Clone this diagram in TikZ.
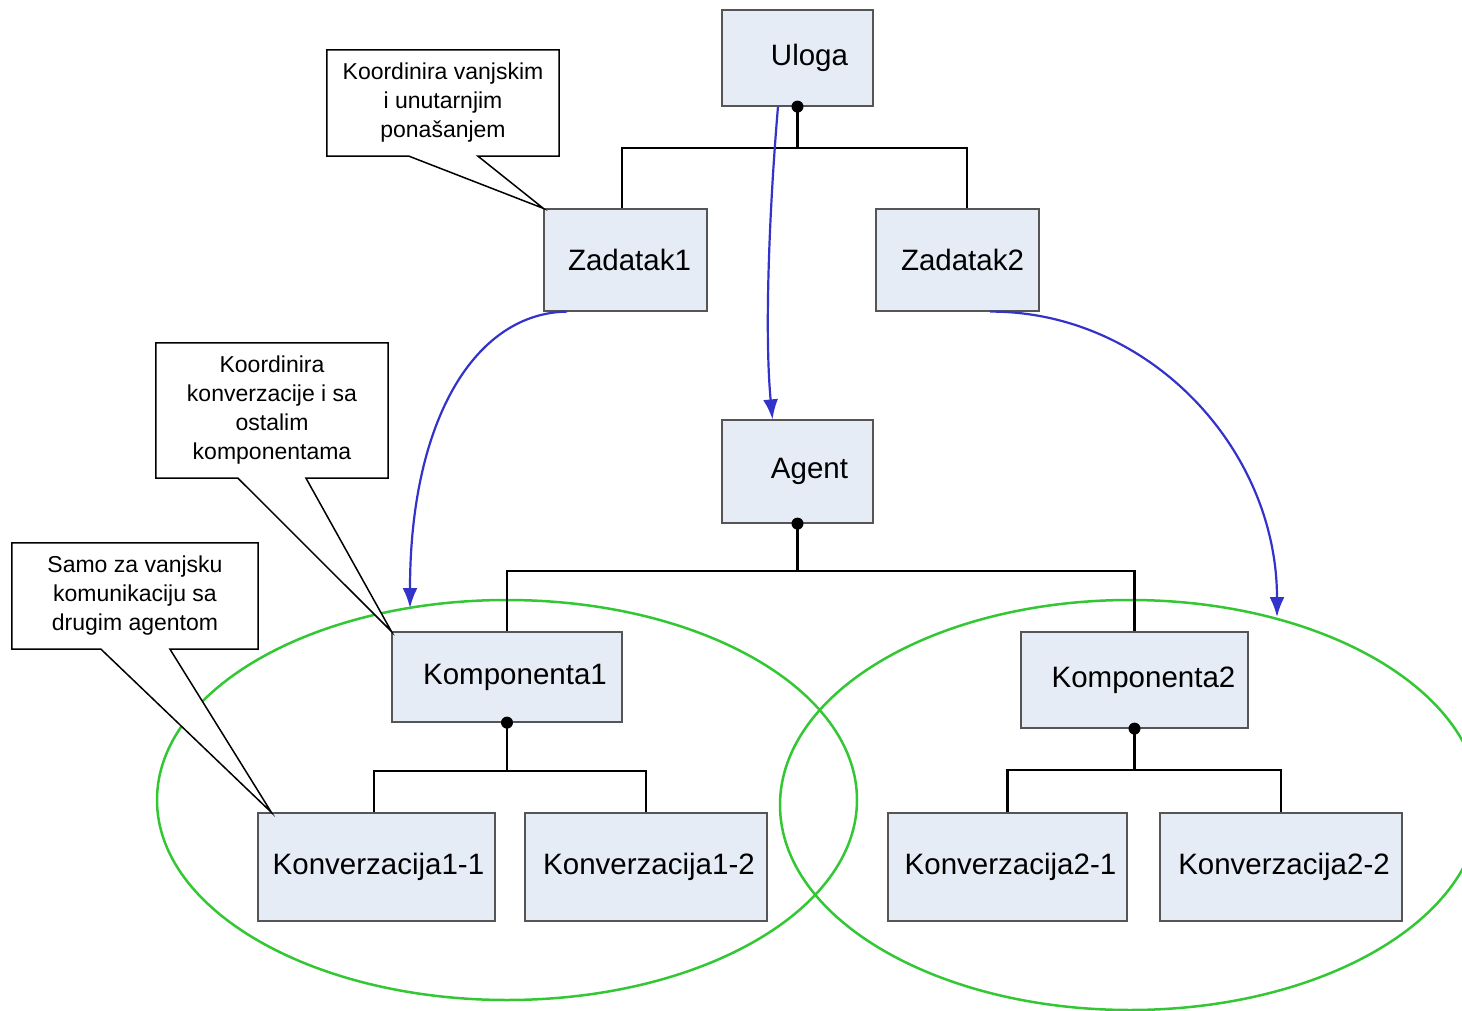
\documentclass[tikz,border=0pt]{standalone}
\usepackage{fontspec}
\setmainfont{Liberation Sans}
\usetikzlibrary{arrows.meta}

\definecolor{boxfill}{RGB}{230,236,246}
\definecolor{boxline}{RGB}{85,85,85}
\definecolor{flowblue}{RGB}{51,51,204}
\definecolor{groupgreen}{RGB}{51,200,51}

\tikzset{
  unit/.style={draw=boxline, line width=1.2pt, fill=boxfill, inner sep=0pt,
    font=\fontsize{29.5}{33}\selectfont, text=black},
  shiftR/.style={execute at begin node={\hspace*{#1}}},
  note/.style={inner sep=0pt, align=center, font=\fontsize{23}{29}\selectfont},
  noteline/.style={draw=black, fill=white, line width=1.5pt, line join=miter},
  tree/.style={draw=black, line width=2.8pt},
  joint/.style={fill=black},
  flow/.style={draw=flowblue, line width=2.2pt, -{Latex[length=20pt,width=15pt]}},
  group/.style={draw=groupgreen, line width=2.5pt}
}

\begin{document}
\begin{tikzpicture}[x=1pt, y=-1pt]
\path[use as bounding box, clip] (0,0) rectangle (1462,1011);
\fill[white] (0,0) rectangle (1462,1011);

% component groups
\draw[group] (507,800) ellipse [x radius=350pt, y radius=200pt];
\draw[group] (1130,805) ellipse [x radius=350pt, y radius=205pt];

% units
\node[unit, minimum width=151pt, minimum height=96pt, shiftR=24pt] (uloga) at (797.5,58) {Uloga};
\node[unit, minimum width=163pt, minimum height=102pt, shiftR=8pt] (zad1) at (625.5,260) {Zadatak1};
\node[unit, minimum width=163pt, minimum height=102pt, shiftR=10pt] (zad2) at (957.5,260) {Zadatak2};
\node[unit, minimum width=151pt, minimum height=103pt, shiftR=24pt] (agent) at (797.5,471.5) {Agent};
\node[unit, minimum width=230pt, minimum height=90pt, shiftR=16pt] (komp1) at (507,677) {Komponenta1};
\node[unit, minimum width=227pt, minimum height=96pt, shiftR=18pt] (komp2) at (1134.5,680) {Komponenta2};
\node[unit, minimum width=237pt, minimum height=108pt, shiftR=4pt] (k11) at (376.5,867) {Konverzacija1-1};
\node[unit, minimum width=242pt, minimum height=108pt, shiftR=6pt] (k12) at (646,867) {Konverzacija1-2};
\node[unit, minimum width=239pt, minimum height=108pt, shiftR=6pt] (k21) at (1007.5,867) {Konverzacija2-1};
\node[unit, minimum width=242pt, minimum height=108pt, shiftR=6pt] (k22) at (1281,867) {Konverzacija2-2};

% composition trees
\coordinate (j1) at (797.5,148);
\draw[tree] (uloga.south) -- (j1);
\draw[tree] (j1) -| ([xshift=-3.5pt]zad1.north);
\draw[tree] (j1) -| ([xshift=9.5pt]zad2.north);
\fill[joint] (uloga.south) circle (6pt);

\coordinate (j2) at (797.5,571);
\draw[tree] (agent.south) -- (j2);
\draw[tree] (j2) -| (komp1.north);
\draw[tree] (j2) -| (komp2.north);
\fill[joint] (agent.south) circle (6pt);

\coordinate (j3) at (507,771);
\draw[tree] (komp1.south) -- (j3);
\draw[tree] (j3) -| ([xshift=-2.5pt]k11.north);
\draw[tree] (j3) -| (k12.north);
\fill[joint] (komp1.south) circle (6pt);

\coordinate (j4) at (1134.5,770);
\draw[tree] (komp2.south) -- (j4);
\draw[tree] (j4) -| (k21.north);
\draw[tree] (j4) -| (k22.north);
\fill[joint] (komp2.south) circle (6pt);

% assignment arrows
\coordinate (g1top) at (410,608);
\coordinate (g2top) at (1277,617);
\draw[flow] ([xshift=-19.5pt]uloga.south) .. controls (770,200) and (764,330) .. ([xshift=-25pt]agent.north);
\draw[flow] ([xshift=-58.5pt]zad1.south) .. controls (475,313) and (410,420) .. (g1top);
\draw[flow] ([xshift=32.5pt]zad2.south) .. controls (1148,311) and (1277,448) .. (g2top);

% notes
\node[note, minimum width=232pt, minimum height=106pt] (c1) at (443,103) {};
\draw[noteline] ([xshift=-34pt]c1.south) -- (zad1.north west) -- ([xshift=35pt]c1.south)
  -- (c1.south east) -- (c1.north east) -- (c1.north west) -- (c1.south west) -- cycle;
\node[note] (c1t) at (c1) {Koordinira vanjskim\\i unutarnjim\\ponašanjem};

\node[note, minimum width=232pt, minimum height=135pt] (c2) at (272,410.5) {};
\draw[noteline] ([xshift=-34pt]c2.south) -- (komp1.north west) -- ([xshift=34pt]c2.south)
  -- (c2.south east) -- (c2.north east) -- (c2.north west) -- (c2.south west) -- cycle;
\node[note] (c2t) at (c2) {Koordinira\\konverzacije i sa\\ostalim\\komponentama};

\node[note, minimum width=246pt, minimum height=106pt] (c3) at (135,596) {};
\draw[noteline] ([xshift=-34pt]c3.south) -- ([xshift=14pt]k11.north west) -- ([xshift=35pt]c3.south)
  -- (c3.south east) -- (c3.north east) -- (c3.north west) -- (c3.south west) -- cycle;
\node[note] (c3t) at (c3) {Samo za vanjsku\\komunikaciju sa\\drugim agentom};
\end{tikzpicture}
\end{document}
